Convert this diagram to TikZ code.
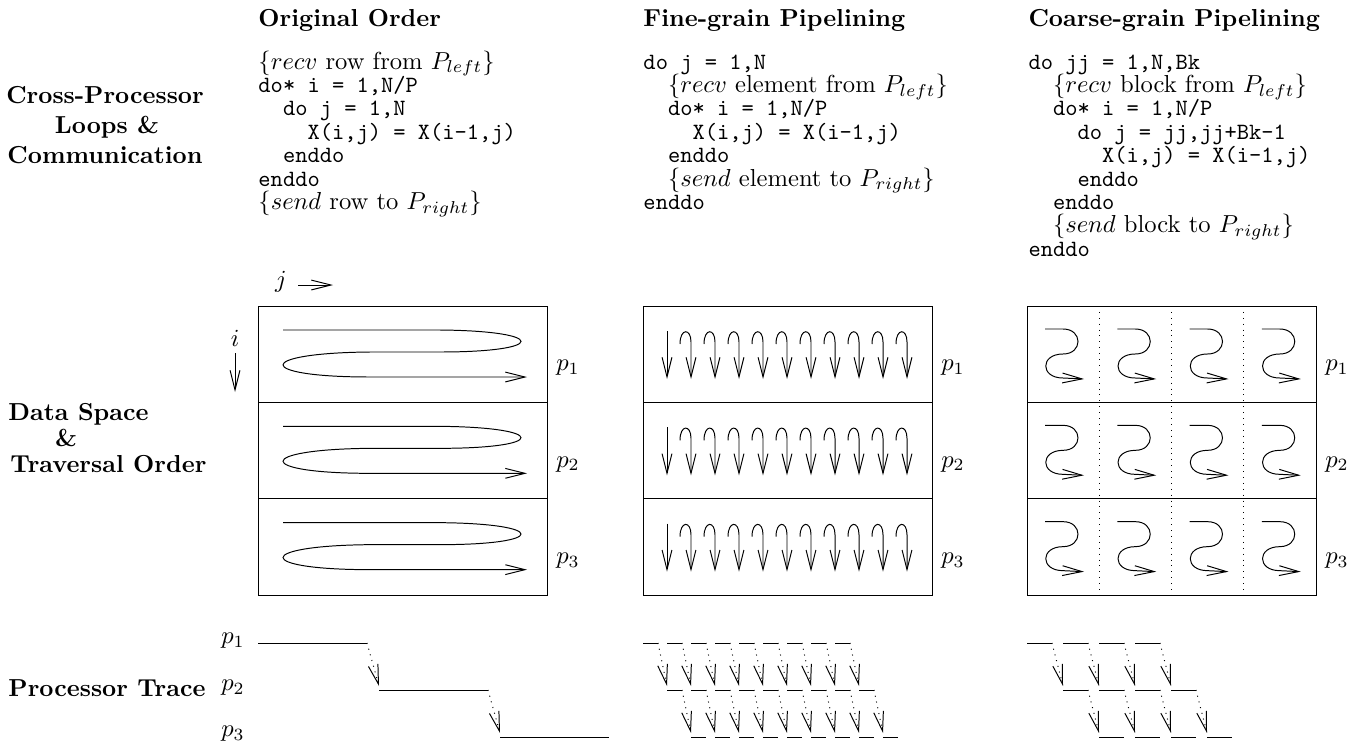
\documentclass[tikz,border=0pt]{standalone}
\usepackage{amsmath}
\usepackage{tikz}
\usetikzlibrary{arrows.meta}

\newcommand{\cd}[1]{{\fontsize{9.5}{9.5}\selectfont\ttfamily #1}}
\newcommand{\indt}[1]{\hspace*{#1\dimexpr4.99pt\relax}}

\begin{document}
\begin{tikzpicture}[x=0.407pt,y=-0.407pt,>={Straight Barb[length=8pt,width=4pt]},
  code/.style={anchor=base west,inner sep=0pt},
  lab/.style={anchor=base west,inner sep=0pt,font=\bfseries},
  clab/.style={anchor=base,inner sep=0pt,font=\bfseries}]
\useasboundingbox (0,0) rectangle (1349,743);
\node[lab] (tor) at (258,26) {Original Order};
\node[lab] (tfg) at (643,26) {Fine-grain Pipelining};
\node[lab] (tcg) at (1028,26) {Coarse-grain Pipelining};
\node[clab] (cp1) at (105,103) {Cross-Processor};
\node[clab] (cp2) at (107,133) {Loops \&};
\node[clab] (cp3) at (105,163) {Communication};
\node[lab] (ds1) at (8,420) {Data Space};
\node[clab] (ds2) at (66,446) {\&};
\node[lab] (ds3) at (10,472) {Traversal Order};
\node[lab] (pt) at (8,696) {Processor Trace};
\foreach \t [count=\k] in {
  {\{$recv$ row from $P_{left}$\}},
  {\cd{do* i = 1,N/P}},
  {\indt2\cd{do j = 1,N}},
  {\indt4\cd{X(i,j) = X(i-1,j)}},
  {\indt2\cd{enddo}},
  {\cd{enddo}},
  {\{$send$ row to $P_{right}$\}}}
  \node[code] (oc\k) at (258,{69+23.4*(\k-1)}) {\t};
\foreach \t [count=\k] in {
  {\cd{do j = 1,N}},
  {\indt2\{$recv$ element from $P_{left}$\}},
  {\indt2\cd{do* i = 1,N/P}},
  {\indt4\cd{X(i,j) = X(i-1,j)}},
  {\indt2\cd{enddo}},
  {\indt2\{$send$ element to $P_{right}$\}},
  {\cd{enddo}}}
  \node[code] (fc\k) at (643,{69+23.4*(\k-1)}) {\t};
\foreach \t [count=\k] in {
  {\cd{do jj = 1,N,Bk}},
  {\indt2\{$recv$ block from $P_{left}$\}},
  {\indt2\cd{do* i = 1,N/P}},
  {\indt4\cd{do j = jj,jj+Bk-1}},
  {\indt6\cd{X(i,j) = X(i-1,j)}},
  {\indt4\cd{enddo}},
  {\indt2\cd{enddo}},
  {\indt2\{$send$ block to $P_{right}$\}},
  {\cd{enddo}}}
  \node[code] (cc\k) at (1028,{69+23.4*(\k-1)}) {\t};
\node (jlab) at (281,282) {$j$};
\draw[->] (298,285) -- (333,285);
\node (ilab) at (235,338) {$i$};
\coordinate (itip) at (235,392);
\draw[->] (235,353) -- (itip);
\foreach \bx in {258,643,1027}{
  \draw (\bx,306) rectangle (\bx+289,595);
  \draw (\bx,402.3) -- (\bx+289,402.3) (\bx,498.7) -- (\bx+289,498.7);
}
\foreach \bx/\nm in {258/o,643/f,1027/c}
  \foreach \r in {1,2,3}
    \node (p\nm\r) at (\bx+310,{306+96.33*(\r-1)+62}) {$p_\r$};
\foreach \c in {1,2,3}
  \draw[dotted] ({1027+72.25*\c},306) -- ({1027+72.25*\c},595);
\foreach \r in {0,1,2}{
  \pgfmathsetmacro\t{306+96.33*\r}
  \draw[->] (283,\t+24) -- (440,\t+24) .. controls (548,\t+25) and (548,\t+46) .. (440,\t+46)
    -- (370,\t+46) .. controls (254,\t+47) and (254,\t+71) .. (370,\t+71) -- (527,\t+71);
  \draw[->] (667,\t+25) -- (667,\t+73);
  \foreach \k in {1,...,10}{
    \pgfmathsetmacro\x{667+24*\k}
    \draw[->] (\x-11,\t+38) .. controls (\x-11,\t+22) and (\x,\t+22) .. (\x,\t+36) -- (\x,\t+73);
  }
  \foreach \c in {0,...,3}{
    \pgfmathsetmacro\l{1027+72.25*\c}
    \draw[->] (\l+18,\t+23) -- (\l+36,\t+23) .. controls (\l+56,\t+23) and (\l+56,\t+48) .. (\l+36,\t+48)
      .. controls (\l+13,\t+48) and (\l+13,\t+72) .. (\l+36,\t+72) -- (\l+57,\t+73);
  }
}
\node (tp1) at (233,641) {$p_1$};
\node (tp2) at (233,688) {$p_2$};
\node (tp3) at (233,734) {$p_3$};
\foreach \r/\y in {0/643,1/690,2/737}{
  \draw ({258+121*\r},\y) -- ({367+121*\r},\y);
  \foreach \j in {0,...,8}
    \draw ({643+24*\r+24*\j},\y) -- ({658+24*\r+24*\j},\y);
  \foreach \j in {0,...,3}
    \draw ({1027+36*\r+36*\j},\y) -- ({1052+36*\r+36*\j},\y);
}
\foreach \r/\y in {0/643,1/690}{
  \draw[dotted,->] ({367+121*\r},\y) -- ({379+121*\r},\y+43);
  \foreach \j in {0,...,8}
    \draw[dotted,->] ({658+24*\r+24*\j},\y) -- ({667+24*\r+24*\j},\y+43);
  \foreach \j in {0,...,3}
    \draw[dotted,->] ({1052+36*\r+36*\j},\y) -- ({1063+36*\r+36*\j},\y+43);
}
\end{tikzpicture}
\end{document}
